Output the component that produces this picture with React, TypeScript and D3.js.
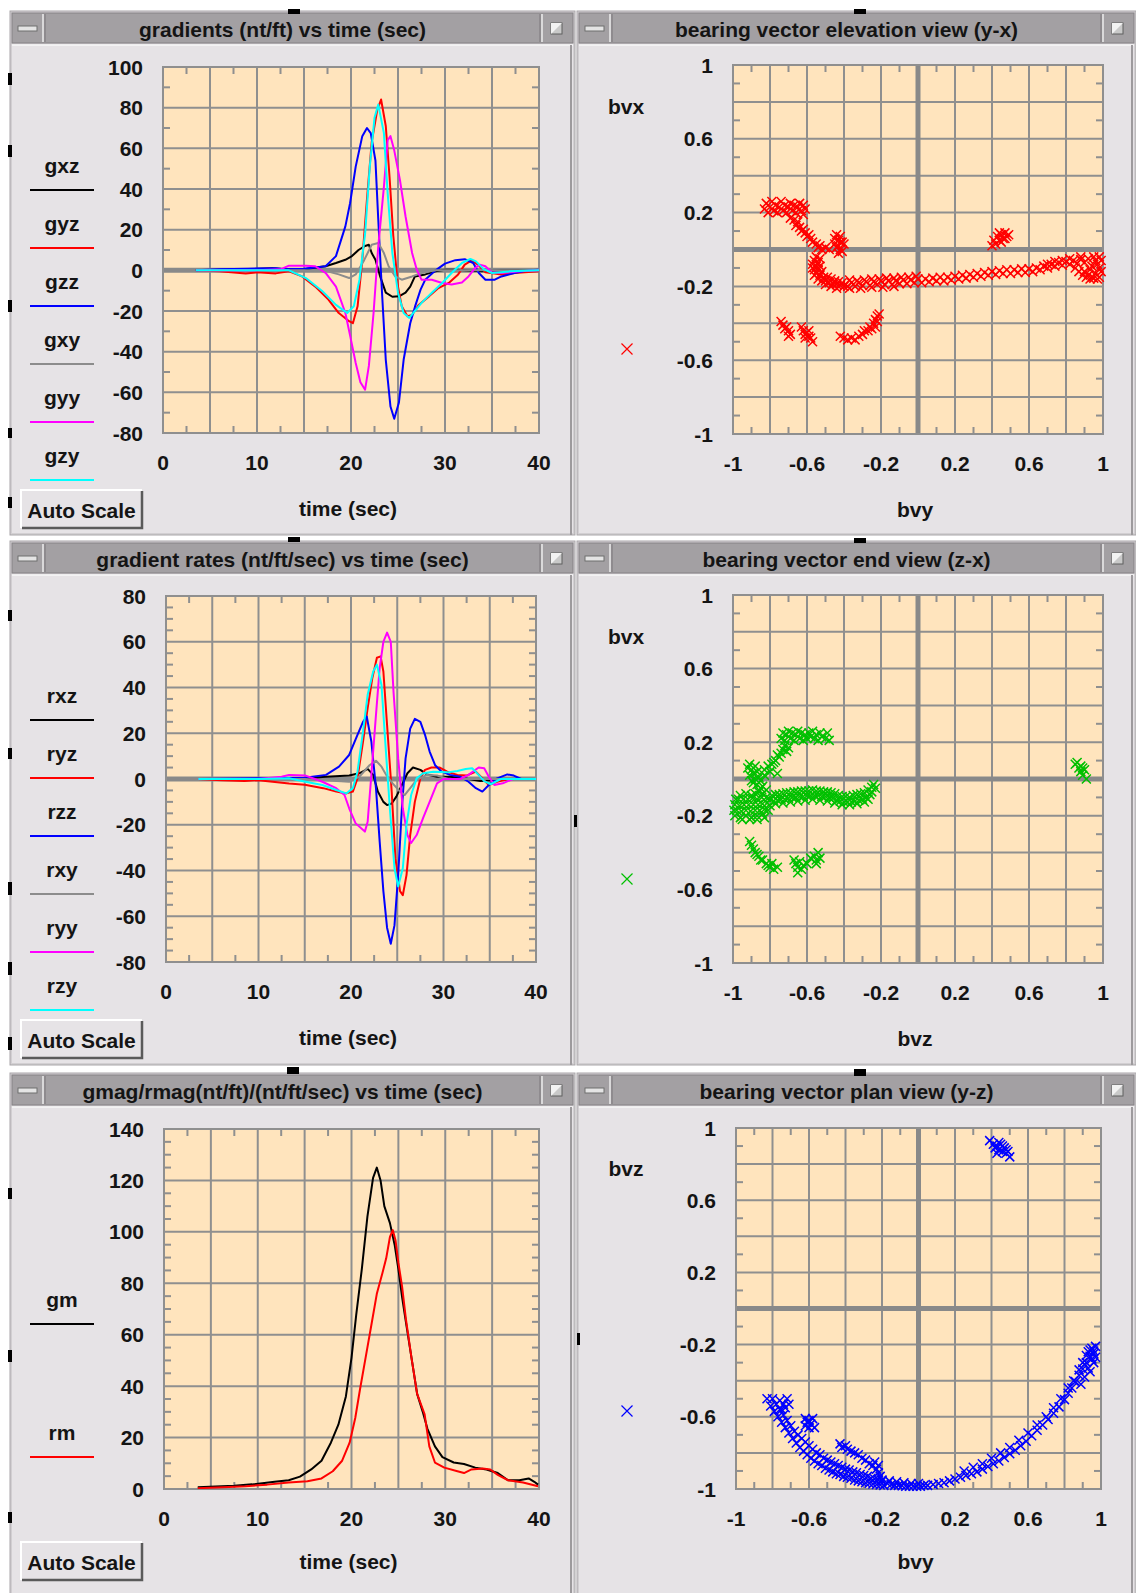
import React from "react";
import * as d3 from "d3";

type Pt = [number, number];

// ---------------- tick labels ----------------
const timeTicks = [0, 10, 20, 30, 40];
const gradTicks = [100, 80, 60, 40, 20, 0, -20, -40, -60, -80];
const rateTicks = [80, 60, 40, 20, 0, -20, -40, -60, -80];
const magTicks = [140, 120, 100, 80, 60, 40, 20, 0];
const bvTicks = [-1, -0.6, -0.2, 0.2, 0.6, 1];

// ---------------- series names / colours ----------------
const gradNames = ["gxz", "gyz", "gzz", "gxy", "gyy", "gzy"];
const rateNames = ["rxz", "ryz", "rzz", "rxy", "ryy", "rzy"];
const magNames = ["gm", "rm"];
const lineColors = ["#000000", "#ff0000", "#0000ff", "#8c8c8c", "#ff00ff", "#00ffff"];
const magColors = ["#000000", "#ff0000"];

// ---------------- gradients (nt/ft) vs time ----------------
const gxz: Pt[] = [[3.5,0],[6,0.3],[9,0.5],[11.6,1],[13,0.5],[15,0.5],[16.5,1.5],[17.3,2],[18.4,3.6],[19.4,5.2],[20.1,7],[20.8,10],[21.5,12],[21.9,12.6],[22.2,8.5],[22.6,5.2],[23.1,-3],[23.7,-11],[24.4,-13],[25.1,-12.8],[25.8,-11],[26.3,-8],[26.8,-3],[27.9,-2],[29,-0.5],[30,0.3],[31.1,0.3],[33.9,-0.5],[36,0],[40,0]];
const gyz: Pt[] = [[3.5,0],[6,-0.5],[8.8,-1.5],[10,-1],[12,-1.5],[13.4,-0.5],[14.8,-3],[16.2,-8],[17.6,-14.4],[18.7,-21],[19.8,-25],[20.2,-26],[20.7,-17.7],[21.2,5],[21.7,35],[22.2,63],[22.8,79],[23.2,84],[23.7,71],[24.1,46],[24.5,17],[25,-8],[25.4,-17.7],[26,-22.6],[26.5,-22],[27.2,-17],[28.3,-12.8],[29.3,-8.7],[30.4,-6.2],[31.4,-2],[32.1,2.8],[32.8,4.8],[33.5,2.8],[34.3,-1],[36,-2],[37.4,-1.3],[40,-0.5]];
const gzz: Pt[] = [[3.5,0],[6,0.5],[9,0.8],[12,1],[13,0.5],[15,0.8],[17.3,2],[18.4,7],[19.4,21.6],[19.9,33],[20.5,51],[21.2,66],[21.7,70],[22.1,67.5],[22.6,54],[22.9,25],[23.3,-11],[23.7,-44],[24.2,-67],[24.6,-73],[25.1,-65],[25.6,-44],[26.3,-26],[26.8,-18],[27.4,-9.5],[27.9,-4.6],[29,0],[30,3.3],[31.1,5],[32.1,5.5],[33,3.6],[33.6,-1.3],[34.3,-4.6],[35.3,-4.6],[36,-3],[37.4,-1.3],[38.9,0],[40,0.3]];
const gxy: Pt[] = [[3.5,0],[10,0],[15,0],[17.5,-0.5],[18.7,-2],[19.8,-3.8],[20.5,-2],[21.4,5],[22.2,12.6],[22.9,13.4],[23.5,8.5],[24,2],[24.7,-3],[25.4,-4.6],[26.5,-3],[27.5,-1.3],[29,0],[40,0]];
const gyy: Pt[] = [[3.5,0],[10,0],[12.5,0.5],[13.4,2.3],[15.2,2.3],[16.2,2],[17.3,-1.3],[18.4,-8],[19.4,-21],[19.9,-32],[20.5,-45.6],[21,-55],[21.5,-58.7],[21.9,-47],[22.4,-21],[22.9,11.8],[23.5,41],[23.9,64],[24.2,66],[24.6,59],[25.2,44.6],[25.8,26.6],[26.5,8.5],[27,0.3],[27.5,-4.6],[28.6,-4.6],[29.7,-6.2],[30.7,-7],[31.8,-6],[32.5,-3],[33.2,1.1],[33.7,2.8],[34.3,2],[35,-1],[36,-1.3],[38,-0.5],[40,0]];
const gzy: Pt[] = [[3.5,0],[10,0],[13.4,0],[15.2,-3.8],[16.9,-10],[18.4,-17],[19.6,-21],[20.3,-17.7],[20.9,-4.6],[21.5,18],[22,51],[22.5,75],[22.9,81.5],[23.5,67.5],[23.9,38],[24.4,8.5],[25,-11],[25.6,-21],[26.2,-23.4],[26.8,-20],[27.5,-16],[28.6,-11],[29.7,-6.2],[30.7,-1.3],[31.8,3.6],[32.7,5.6],[33.3,4.4],[34.1,0.6],[35,-1.3],[37,-0.5],[40,0]];

// ---------------- gradient rates (nt/ft/sec) vs time ----------------
const rxz: Pt[] = [[3.5,0],[10,0],[15,0.3],[17.3,1],[19.8,1.5],[20.9,2.5],[21.8,4.4],[22.4,1.8],[22.9,-5.5],[23.5,-10],[23.9,-11.4],[24.4,-10.7],[24.9,-7.7],[25.5,-2.6],[26.1,2.5],[26.7,5],[27.5,4],[28.2,2],[29.3,1],[30.7,1],[32.2,0.3],[34,-0.9],[35.5,-0.4],[37,0],[40,0]];
const ryz: Pt[] = [[3.5,0],[6,-0.5],[8.5,-0.9],[10,-0.5],[13.3,-2],[15,-2.5],[17,-4],[18.4,-5.5],[19.5,-6.3],[20.2,-5.5],[20.7,0.3],[21.3,16.4],[21.8,31],[22.3,44],[22.8,53],[23.2,53.6],[23.5,47],[23.9,23.6],[24.4,-5.5],[24.8,-34.7],[25.3,-49],[25.6,-50.8],[26,-42],[26.4,-24.5],[26.9,-10],[27.5,0.3],[28,4],[28.7,5],[29.6,5],[30.4,3.2],[31.5,1.8],[32.5,1.5],[33.5,3.2],[34.2,0.3],[34.9,-2.6],[35.8,-1.2],[37,0],[40,0]];
const rzz: Pt[] = [[3.5,0],[10,0.3],[15,0.5],[17.3,1.8],[18.7,5.4],[19.8,10.5],[20.7,19.3],[21.3,25],[21.7,27.3],[22.2,16.4],[22.7,-4],[23.1,-27.4],[23.5,-49],[23.9,-65],[24.3,-72],[24.7,-64],[25.1,-42],[25.5,-12.8],[25.9,9],[26.4,22],[26.9,26.3],[27.5,25],[28,19.3],[28.5,12],[29.1,6],[29.8,3.2],[30.7,1.8],[31.8,1],[32.7,-1.2],[33.5,-4],[34.2,-5.5],[34.9,-2.6],[35.8,0.3],[36.9,2],[37.6,1.5],[38.4,0],[40,0]];
const rxy: Pt[] = [[3.5,0],[15,0],[19.8,-1.2],[20.9,1],[22,6],[22.7,8],[23.3,5.4],[23.8,1.8],[24.5,-1.9],[25.3,-5.5],[25.8,-7],[26.4,-4],[27.1,-0.4],[28.2,1.8],[29.3,1.5],[30.5,0],[40,0]];
const ryy: Pt[] = [[3.5,0],[10,0],[12.5,1],[13.3,1.8],[15.1,1.5],[16.9,-1.2],[18.4,-4],[19.3,-7],[19.8,-12.8],[20.5,-19.4],[21.5,-23],[21.8,-18.7],[22.2,1.8],[22.7,28],[23.1,48.5],[23.5,60],[23.9,64],[24.3,60],[24.6,38],[25.1,9],[25.6,-12.8],[26.1,-24.5],[26.5,-28],[27.1,-24.5],[27.8,-17],[28.5,-10],[29.3,-1.9],[30,0],[31.8,0],[32.7,1.8],[33.8,5],[34.4,4.7],[34.9,1],[35.5,-2.6],[36.4,-1.9],[37.5,0],[40,0]];
const rzy: Pt[] = [[3.5,0],[10,0],[13.3,0.3],[15.1,-1.2],[16.9,-2.6],[18.4,-4.8],[19.5,-6.3],[20.2,-4],[20.7,3.2],[21.3,20.7],[21.8,36.8],[22.4,47],[22.8,50],[23.3,41],[23.7,16.4],[24.2,-12.8],[24.7,-39],[25.1,-47],[25.6,-39],[26,-20],[26.5,-7],[27.1,0.3],[27.8,2.5],[28.9,3.2],[30.4,2.9],[31.5,3.5],[32.4,4.4],[33.1,4.7],[33.8,1.8],[34.4,-0.9],[35.1,-2.3],[36.2,0],[40,0]];

// ---------------- gmag / rmag vs time ----------------
const gm: Pt[] = [[3.6,0.7],[5.5,1],[7.5,1.3],[9.4,1.8],[11.8,2.8],[13.3,3.4],[14.5,4.8],[15.7,7.6],[16.8,11],[17.8,18],[18.6,25],[19.4,36],[20,51],[20.5,67.6],[21.1,85.5],[21.7,106],[22.3,121],[22.7,125],[23.1,120],[23.5,110],[24.1,103.4],[24.6,95],[25,85.5],[25.4,74.5],[25.8,65],[26.4,51],[27,37],[27.6,30],[28.1,23.4],[28.9,16.6],[29.7,12.4],[30.9,10.3],[32,9.7],[33.2,8.3],[34.4,7.6],[35.6,6.2],[36.7,3.4],[37.9,3.4],[38.9,4.1],[39.5,2.8],[39.9,1.7]];
const rm: Pt[] = [[3.6,0.3],[6.3,0.7],[8.7,1.1],[11,1.7],[13.3,2.5],[15.3,3],[16.8,4.1],[18,6.9],[19,11],[19.8,18],[20.4,27.6],[20.9,38.6],[21.5,51],[22.1,63.4],[22.7,75.9],[23.3,84],[23.7,89.7],[24.1,98],[24.4,100.7],[24.7,96.6],[25,88],[25.4,78.6],[25.8,66.2],[26.4,51],[27,37],[27.8,29],[28.3,16.6],[28.9,10.3],[29.9,8.3],[31.3,6.9],[32,6.2],[32.8,7.6],[34,8],[34.8,7.6],[35.6,5.5],[36.7,3.4],[38.3,2.5],[39.9,1.1]];

// ---------------- bearing vector elevation view (bvy, bvx) ----------------
const elevPts: Pt[] = [
  [-0.83,0.22],[-0.82,0.25],[-0.81,0.20],[-0.80,0.23],[-0.79,0.26],[-0.78,0.21],[-0.77,0.24],[-0.76,0.20],[-0.75,0.23],[-0.74,0.26],[-0.73,0.21],[-0.72,0.24],[-0.71,0.20],[-0.70,0.23],[-0.69,0.25],[-0.68,0.21],[-0.67,0.24],[-0.66,0.20],[-0.65,0.23],[-0.64,0.25],[-0.63,0.21],[-0.62,0.24],[-0.62,0.19],[-0.61,0.22],
  [-0.69,0.17],[-0.67,0.16],[-0.66,0.13],[-0.64,0.12],[-0.63,0.10],[-0.61,0.09],[-0.60,0.07],[-0.58,0.06],[-0.57,0.04],[-0.55,0.03],[-0.53,0.02],[-0.52,0.00],[-0.50,0.01],[-0.48,0.00],[-0.65,0.15],[-0.62,0.11],[-0.59,0.08],[-0.54,0.01],
  [-0.45,0.06],[-0.44,0.08],[-0.43,0.05],[-0.42,0.07],[-0.41,0.04],[-0.43,0.02],[-0.42,0.00],[-0.41,-0.01],[-0.44,0.01],[-0.40,0.03],[-0.42,0.04],[-0.43,-0.02],[-0.45,0.03],
  [-0.55,-0.04],[-0.56,-0.06],[-0.54,-0.07],[-0.55,-0.09],[-0.56,-0.11],[-0.54,-0.11],[-0.55,-0.13],[-0.53,-0.14],[-0.52,-0.12],[-0.51,-0.15],[-0.50,-0.17],[-0.49,-0.15],[-0.48,-0.18],[-0.47,-0.16],[-0.46,-0.185],[-0.45,-0.17],[-0.44,-0.19],[-0.43,-0.175],[-0.42,-0.195],[-0.41,-0.18],[-0.40,-0.2],[-0.53,-0.05],[-0.53,-0.09],
  [-0.57,-0.08],[-0.57,-0.1],[-0.56,-0.14],[-0.54,-0.16],[-0.52,-0.17],[-0.5,-0.19],[-0.47,-0.2],[-0.44,-0.21],
  [-0.38,-0.20],[-0.36,-0.18],[-0.34,-0.20],[-0.32,-0.18],[-0.30,-0.195],[-0.28,-0.175],[-0.26,-0.195],[-0.24,-0.175],[-0.22,-0.19],[-0.20,-0.17],[-0.18,-0.19],[-0.16,-0.17],[-0.14,-0.19],[-0.12,-0.17],[-0.10,-0.185],[-0.08,-0.165],[-0.06,-0.185],[-0.04,-0.165],[-0.02,-0.18],[0.00,-0.16],[0.02,-0.18],[0.04,-0.16],[0.06,-0.175],[0.08,-0.155],[0.10,-0.17],[0.12,-0.15],[0.14,-0.17],[0.16,-0.15],[0.18,-0.165],[0.20,-0.145],[0.22,-0.16],[0.24,-0.14],[0.26,-0.155],[0.28,-0.135],[0.30,-0.15],[0.32,-0.13],[0.34,-0.145],[0.36,-0.125],[0.38,-0.14],[0.40,-0.12],[0.42,-0.135],[0.44,-0.115],[0.46,-0.13],[0.48,-0.11],[0.50,-0.13],[0.52,-0.11],[0.54,-0.125],[0.56,-0.105],[0.58,-0.125],[0.60,-0.105],[0.62,-0.12],[0.64,-0.10],[0.66,-0.11],[0.68,-0.09],[0.70,-0.10],[0.72,-0.08],[0.74,-0.09],[0.76,-0.07],[0.78,-0.085],[0.80,-0.065],[0.82,-0.08],[0.84,-0.06],[0.86,-0.075],[0.88,-0.055],[0.90,-0.07],[0.92,-0.05],[0.94,-0.09],[0.96,-0.06],[0.98,-0.1],
  [-0.37,-0.165],[-0.33,-0.17],[-0.29,-0.165],[-0.25,-0.16],[-0.21,-0.16],[-0.17,-0.155],[-0.13,-0.155],[-0.09,-0.15],[-0.05,-0.15],[-0.01,-0.145],[-0.37,-0.21],[-0.31,-0.21],[-0.25,-0.205],[-0.19,-0.205],[-0.13,-0.2],
  [0.90,-0.12],[0.92,-0.14],[0.94,-0.15],[0.96,-0.13],[0.98,-0.15],[0.95,-0.04],[0.98,-0.04],[0.93,-0.11],[0.97,-0.08],
  [0.85,-0.1],[0.87,-0.12],[0.89,-0.14],[0.91,-0.15],[0.93,-0.16],[0.95,-0.155],[0.97,-0.16],[0.99,-0.12],[0.99,-0.06],[0.88,-0.04],[0.82,-0.05],[0.78,-0.06],[0.74,-0.065],[0.70,-0.08],
  [0.40,0.02],[0.41,0.05],[0.42,0.03],[0.43,0.07],[0.44,0.05],[0.45,0.08],[0.46,0.06],[0.47,0.09],[0.48,0.07],[0.49,0.08],[0.45,0.04],[0.44,0.09],[0.47,0.06],
  [-0.74,-0.39],[-0.73,-0.41],[-0.72,-0.43],[-0.71,-0.42],[-0.70,-0.44],[-0.69,-0.46],[-0.70,-0.47],[-0.63,-0.42],[-0.62,-0.44],[-0.61,-0.46],[-0.60,-0.45],[-0.59,-0.47],[-0.58,-0.48],[-0.57,-0.50],[-0.61,-0.48],[-0.59,-0.44],
  [-0.42,-0.47],[-0.40,-0.48],[-0.38,-0.49],[-0.36,-0.48],[-0.34,-0.49],[-0.32,-0.47],[-0.30,-0.46],[-0.29,-0.44],[-0.27,-0.44],[-0.26,-0.42],[-0.25,-0.43],[-0.24,-0.40],[-0.23,-0.38],[-0.22,-0.36],[-0.23,-0.42],[-0.22,-0.39],[-0.21,-0.35]
];

// ---------------- bearing vector end view (bvz, bvx) ----------------
const endPts: Pt[] = [
  [-0.74,0.22],[-0.73,0.25],[-0.72,0.21],[-0.71,0.24],[-0.70,0.26],[-0.69,0.22],[-0.68,0.25],[-0.67,0.21],[-0.66,0.24],[-0.65,0.26],[-0.64,0.22],[-0.63,0.25],[-0.62,0.21],[-0.61,0.24],[-0.60,0.22],[-0.59,0.25],[-0.58,0.23],[-0.57,0.26],[-0.56,0.22],[-0.55,0.24],[-0.54,0.21],[-0.53,0.25],[-0.52,0.23],[-0.50,0.22],[-0.49,0.25],[-0.48,0.21],
  [-0.72,0.18],[-0.73,0.16],[-0.74,0.14],[-0.75,0.12],[-0.76,0.13],[-0.77,0.10],[-0.78,0.09],[-0.79,0.08],[-0.81,0.07],[-0.83,0.05],[-0.80,0.04],[-0.76,0.03],[-0.71,0.15],[-0.70,0.17],
  [-0.92,0.06],[-0.91,0.08],[-0.90,0.05],[-0.89,0.03],[-0.91,0.02],[-0.88,0.00],[-0.87,0.04],[-0.86,0.01],[-0.90,-0.01],[-0.89,-0.02],[-0.87,-0.03],[-0.85,-0.01],[-0.84,-0.04],[-0.83,0.02],[-0.88,0.07],[-0.86,-0.06],
  [-0.99,-0.2],[-0.96,-0.21],[-0.93,-0.2],[-0.90,-0.21],[-0.87,-0.2],[-0.84,-0.19],
  [-0.98,-0.17],[-0.955,-0.175],[-0.93,-0.17],[-0.905,-0.175],[-0.88,-0.17],[-0.855,-0.17],[-0.83,-0.165],
  [-0.99,-0.14],[-0.965,-0.145],[-0.94,-0.14],[-0.915,-0.14],[-0.89,-0.14],[-0.865,-0.14],[-0.84,-0.135],[-0.815,-0.13],
  [-0.97,-0.11],[-0.945,-0.11],[-0.92,-0.11],[-0.895,-0.105],[-0.87,-0.11],[-0.845,-0.1],[-0.82,-0.1],[-0.80,-0.11],
  [-0.86,-0.07],[-0.84,-0.08],[-0.82,-0.06],[-0.85,-0.05],
  [-0.995,-0.17],[-0.985,-0.11],[-0.96,-0.09],[-0.93,-0.08],[-0.9,-0.09],[-0.88,-0.08],[-0.95,-0.22],[-0.91,-0.22],[-0.87,-0.22],[-0.83,-0.21],[-0.81,-0.17],[-0.8,-0.145],
  [-0.79,-0.09],[-0.77,-0.085],[-0.75,-0.085],[-0.73,-0.08],[-0.71,-0.075],[-0.69,-0.075],[-0.67,-0.07],[-0.65,-0.07],[-0.63,-0.065],[-0.61,-0.065],[-0.59,-0.065],[-0.57,-0.06],[-0.55,-0.065],[-0.53,-0.065],[-0.51,-0.07],[-0.49,-0.07],[-0.47,-0.075],[-0.45,-0.08],[-0.43,-0.09],[-0.41,-0.095],[-0.39,-0.095],[-0.37,-0.1],[-0.35,-0.09],[-0.33,-0.085],[-0.31,-0.08],[-0.29,-0.075],[-0.27,-0.06],[-0.25,-0.045],[-0.24,-0.03],
  [-0.78,-0.12],[-0.76,-0.115],[-0.74,-0.11],[-0.72,-0.11],[-0.70,-0.105],[-0.68,-0.1],[-0.66,-0.1],[-0.64,-0.095],[-0.62,-0.095],[-0.60,-0.09],[-0.58,-0.09],[-0.56,-0.09],[-0.54,-0.09],[-0.52,-0.095],[-0.50,-0.095],[-0.48,-0.1],[-0.46,-0.105],[-0.44,-0.115],[-0.42,-0.12],[-0.40,-0.125],[-0.38,-0.125],[-0.36,-0.125],[-0.34,-0.12],[-0.32,-0.115],[-0.30,-0.11],[-0.28,-0.1],[-0.26,-0.085],
  [-0.77,-0.135],[-0.73,-0.13],[-0.69,-0.125],[-0.65,-0.12],[-0.61,-0.115],[-0.57,-0.11],[-0.53,-0.115],[-0.49,-0.12],[-0.45,-0.13],[-0.41,-0.14],[-0.37,-0.14],[-0.33,-0.135],[-0.29,-0.125],[-0.27,-0.11],[-0.25,-0.07],[-0.23,-0.05],
  [-0.91,-0.34],[-0.90,-0.36],[-0.89,-0.38],[-0.88,-0.40],[-0.87,-0.41],[-0.86,-0.42],[-0.85,-0.44],[-0.84,-0.44],[-0.82,-0.46],[-0.81,-0.47],[-0.80,-0.48],[-0.78,-0.49],[-0.76,-0.48],[-0.79,-0.46],
  [-0.67,-0.44],[-0.66,-0.46],[-0.65,-0.48],[-0.64,-0.45],[-0.63,-0.49],[-0.65,-0.51],[-0.62,-0.47],[-0.60,-0.46],[-0.58,-0.43],[-0.56,-0.42],[-0.55,-0.44],[-0.54,-0.40],[-0.53,-0.43],[-0.55,-0.46],
  [0.85,0.08],[0.86,0.09],[0.87,0.06],[0.88,0.04],[0.89,0.02],[0.90,0.05],[0.88,0.07],[0.91,0.00],[0.89,0.06]
];

// ---------------- bearing vector plan view (bvy, bvz) ----------------
const planPts: Pt[] = [
  [0.39,0.93],[0.41,0.91],[0.42,0.89],[0.43,0.90],[0.44,0.88],[0.45,0.91],[0.46,0.87],[0.47,0.89],[0.48,0.86],[0.49,0.87],[0.50,0.84],[0.44,0.92],[0.46,0.9],[0.48,0.88],[0.43,0.86],
  [-0.83,-0.5],[-0.81,-0.54],[-0.79,-0.57],[-0.77,-0.6],[-0.75,-0.63],[-0.73,-0.66],[-0.71,-0.69],[-0.69,-0.72],[-0.67,-0.745],[-0.65,-0.77],[-0.63,-0.79],[-0.61,-0.81],[-0.59,-0.83],[-0.57,-0.845],[-0.55,-0.86],[-0.53,-0.87],[-0.51,-0.885],[-0.49,-0.895],[-0.47,-0.905],[-0.45,-0.915],[-0.43,-0.92],[-0.41,-0.93],[-0.39,-0.935],[-0.37,-0.94],[-0.35,-0.95],[-0.33,-0.955],[-0.31,-0.96],[-0.29,-0.965],[-0.27,-0.968],[-0.25,-0.972],[-0.23,-0.975],[-0.21,-0.978],[-0.19,-0.98],
  [-0.80,-0.5],[-0.78,-0.53],[-0.76,-0.56],[-0.74,-0.59],[-0.72,-0.62],[-0.70,-0.65],[-0.68,-0.68],[-0.66,-0.70],[-0.64,-0.72],[-0.62,-0.74],[-0.60,-0.76],[-0.58,-0.78],[-0.56,-0.80],[-0.54,-0.81],[-0.52,-0.83],[-0.50,-0.84],[-0.48,-0.85],[-0.46,-0.86],[-0.44,-0.87],[-0.42,-0.88],[-0.40,-0.89],[-0.38,-0.895],[-0.36,-0.905],[-0.34,-0.91],[-0.32,-0.92],[-0.30,-0.925],[-0.28,-0.93],[-0.26,-0.94],[-0.24,-0.945],[-0.22,-0.95],[-0.20,-0.955],
  [-0.17,-0.97],[-0.15,-0.975],[-0.13,-0.98],[-0.11,-0.98],[-0.09,-0.982],[-0.07,-0.985],[-0.05,-0.985],[-0.03,-0.985],[-0.01,-0.985],[0.01,-0.985],[0.03,-0.98],[-0.16,-0.955],[-0.12,-0.96],[-0.08,-0.965],[-0.04,-0.97],[0.0,-0.97],
  [0.05,-0.98],[0.08,-0.975],[0.11,-0.97],[0.14,-0.965],[0.17,-0.955],[0.20,-0.945],[0.23,-0.935],[0.26,-0.925],[0.29,-0.915],[0.32,-0.905],[0.35,-0.89],[0.38,-0.875],[0.41,-0.86],[0.44,-0.845],[0.47,-0.825],[0.50,-0.805],[0.53,-0.785],[0.56,-0.76],[0.59,-0.735],[0.62,-0.705],[0.65,-0.675],[0.68,-0.645],[0.71,-0.615],[0.74,-0.58],[0.77,-0.545],[0.80,-0.505],[0.82,-0.47],[0.84,-0.44],[0.86,-0.405],[0.88,-0.37],[0.90,-0.335],[0.92,-0.30],[0.94,-0.265],[0.96,-0.235],[0.97,-0.21],
  [0.25,-0.90],[0.30,-0.88],[0.35,-0.86],[0.40,-0.83],[0.45,-0.80],[0.50,-0.77],[0.55,-0.73],[0.60,-0.69],[0.65,-0.645],[0.70,-0.60],[0.74,-0.55],[0.78,-0.50],[0.82,-0.44],[0.85,-0.40],[0.88,-0.34],[0.90,-0.30],[0.92,-0.26],[0.94,-0.23],[0.95,-0.28],[0.93,-0.33],[0.91,-0.38],[0.89,-0.42],
  [0.96,-0.25],[0.97,-0.27],[0.95,-0.22],[0.93,-0.24],[0.96,-0.3],[0.94,-0.35],
  [-0.76,-0.51],[-0.74,-0.53],[-0.72,-0.50],[-0.73,-0.55],[-0.75,-0.56],[-0.71,-0.53],
  [-0.62,-0.61],[-0.61,-0.63],[-0.60,-0.62],[-0.59,-0.64],[-0.62,-0.65],[-0.58,-0.61],[-0.60,-0.66],[-0.57,-0.66],
  [-0.43,-0.75],[-0.42,-0.77],[-0.40,-0.76],[-0.39,-0.78],[-0.37,-0.79],[-0.35,-0.80],[-0.33,-0.81],[-0.31,-0.83],[-0.29,-0.84],[-0.27,-0.86],[-0.25,-0.87],[-0.23,-0.89],[-0.22,-0.91],[-0.21,-0.93],[-0.20,-0.95],[-0.22,-0.87],[-0.24,-0.85]
];

const gradSeries = [gxz, gyz, gzz, gxy, gyy, gzy];
const rateSeries = [rxz, ryz, rzz, rxy, ryy, rzy];
const magSeries = [gm, rm];

// ---------------- layout ----------------
const FONT = '"Liberation Sans", Arial, Helvetica, sans-serif';
const COL = [{ x: 10, w: 565 }, { x: 577, w: 559 }];
const ROW_T = [13, 543, 1075];
const PANEL_H = 522;
const BODY = "#e6e3e6";
const TITLEBAR = "#a3a0a3";
const PLOTBG = "#ffe4bd";
const GRID = "#8f8f8f";
const TXT = "#141414";

type Rect = { l: number; r: number; t: number; b: number };

const HANDLES: [number, number, number, number][] = [
  [288, 9, 12, 5], [854, 9, 12, 5], [288, 537, 12, 5], [854, 538, 12, 5], [287, 1067, 12, 7], [854, 1069, 12, 7],
  [8, 73, 4, 12], [8, 145, 4, 12], [8, 300, 4, 12], [8, 428, 4, 10], [8, 497, 4, 11], [8, 610, 4, 11], [8, 748, 4, 11],
  [8, 882, 4, 13], [8, 962, 4, 13], [8, 1037, 4, 13], [8, 1188, 4, 11], [8, 1350, 4, 12], [8, 1512, 4, 11],
  [574, 815, 3, 12], [577, 1333, 3, 12],
];

function isMult(v: number, base: number, step: number) {
  const k = (v - base) / step;
  return Math.abs(k - Math.round(k)) < 1e-6;
}

function Panel({ x, T, w, title }: { x: number; T: number; w: number; title: string }) {
  return (
    <g>
      <rect x={x} y={T - 2} width={w} height={PANEL_H + 2} fill="#d2cfd2" stroke="#a9a6a9" strokeWidth={1} />
      <rect x={x + 2} y={T} width={w - 4} height={30} fill={TITLEBAR} stroke="#858285" strokeWidth={1} />
      <line x1={x + 33} y1={T + 1} x2={x + 33} y2={T + 29} stroke="#ececec" strokeWidth={1.5} />
      <line x1={x + 35} y1={T + 1} x2={x + 35} y2={T + 29} stroke="#7a777a" strokeWidth={1} />
      <rect x={x + 8} y={T + 13} width={19} height={5} fill="#e4e4e4" stroke="#6f6f6f" strokeWidth={1} />
      <line x1={x + w - 35} y1={T + 1} x2={x + w - 35} y2={T + 29} stroke="#7a777a" strokeWidth={1} />
      <line x1={x + w - 33} y1={T + 1} x2={x + w - 33} y2={T + 29} stroke="#ececec" strokeWidth={1.5} />
      <rect x={x + w - 24} y={T + 10} width={11} height={11} fill="#c9c9c9" stroke="#5f5f5f" strokeWidth={1} />
      <path d={`M${x + w - 24},${T + 21}L${x + w - 24},${T + 10}L${x + w - 13},${T + 10}Z`} fill="#f2f2f2" />
      <text x={x + w / 2 - 10} y={T + 16} textAnchor="middle" dominantBaseline="central" fontFamily={FONT} fontWeight="bold" fontSize={21} fill={TXT}>
        {title}
      </text>
      <rect x={x + 2} y={T + 32} width={w - 4} height={PANEL_H - 34} fill={BODY} />
      <line x1={x + 2} y1={T + 32} x2={x + w - 2} y2={T + 32} stroke="#f7f7f7" strokeWidth={1.5} />
      <line x1={x + w - 4} y1={T + 32} x2={x + w - 4} y2={T + PANEL_H} stroke="#9d9a9d" strokeWidth={2} />
    </g>
  );
}

function AutoScale({ x, T, dy }: { x: number; T: number; dy: number }) {
  const bx = x + 11, by = T + 477 + dy, bw = 121, bh = 38;
  return (
    <g>
      <rect x={bx} y={by} width={bw} height={bh} fill={BODY} />
      <path d={`M${bx},${by + bh}L${bx},${by}L${bx + bw},${by}`} fill="none" stroke="#ffffff" strokeWidth={2} />
      <path d={`M${bx + 1},${by + bh}L${bx + bw},${by + bh}L${bx + bw},${by + 1}`} fill="none" stroke="#5a5a5a" strokeWidth={2.5} />
      <text x={bx + bw / 2} y={by + bh / 2 + 1} textAnchor="middle" dominantBaseline="central" fontFamily={FONT} fontWeight="bold" fontSize={21} fill={TXT}>
        Auto Scale
      </text>
    </g>
  );
}

type FrameProps = {
  rect: Rect;
  xs: d3.ScaleLinear<number, number>;
  ys: d3.ScaleLinear<number, number>;
  xGrid: number; xMinor: number; yGrid: number; yMinor: number;
  xTicks: number[]; yTicks: number[];
  zeroX: boolean; zeroY: boolean;
  xTitle: string; titleDy: number;
};

function Frame(p: FrameProps) {
  const { rect, xs, ys } = p;
  const [x0, x1] = xs.domain();
  const [y0, y1] = ys.domain();
  const xg = d3.range(x0 + p.xGrid, x1 - 1e-6, p.xGrid);
  const yg = d3.range(y0 + p.yGrid, y1 - 1e-6, p.yGrid);
  const xm = d3.range(x0, x1 + 1e-6, p.xMinor).filter((v) => !isMult(v, x0, p.xGrid));
  const ym = d3.range(y0, y1 + 1e-6, p.yMinor).filter((v) => !isMult(v, y0, p.yGrid));
  const TL = 7;
  return (
    <g>
      <rect x={rect.l} y={rect.t} width={rect.r - rect.l} height={rect.b - rect.t} fill={PLOTBG} />
      {xg.map((v, i) => (
        <line key={"xg" + i} x1={xs(v)} x2={xs(v)} y1={rect.t} y2={rect.b} stroke={GRID} strokeWidth={2} />
      ))}
      {yg.map((v, i) => (
        <line key={"yg" + i} x1={rect.l} x2={rect.r} y1={ys(v)} y2={ys(v)} stroke={GRID} strokeWidth={2} />
      ))}
      {xm.map((v, i) => (
        <g key={"xm" + i}>
          <line x1={xs(v)} x2={xs(v)} y1={rect.t} y2={rect.t + TL} stroke={GRID} strokeWidth={2} />
          <line x1={xs(v)} x2={xs(v)} y1={rect.b} y2={rect.b - TL} stroke={GRID} strokeWidth={2} />
        </g>
      ))}
      {ym.map((v, i) => (
        <g key={"ym" + i}>
          <line x1={rect.l} x2={rect.l + TL} y1={ys(v)} y2={ys(v)} stroke={GRID} strokeWidth={2} />
          <line x1={rect.r} x2={rect.r - TL} y1={ys(v)} y2={ys(v)} stroke={GRID} strokeWidth={2} />
        </g>
      ))}
      {p.zeroY && <line x1={rect.l} x2={rect.r} y1={ys(0)} y2={ys(0)} stroke="#898989" strokeWidth={5} />}
      {p.zeroX && <line x1={xs(0)} x2={xs(0)} y1={rect.t} y2={rect.b} stroke="#898989" strokeWidth={5} />}
      <rect x={rect.l} y={rect.t} width={rect.r - rect.l} height={rect.b - rect.t} fill="none" stroke={GRID} strokeWidth={2} />
      {p.yTicks.map((v, i) => (
        <text key={"yl" + i} x={rect.l - 20} y={ys(v)} textAnchor="end" dominantBaseline="central" fontFamily={FONT} fontWeight="bold" fontSize={21} fill={TXT}>
          {String(v)}
        </text>
      ))}
      {p.xTicks.map((v, i) => (
        <text key={"xl" + i} x={xs(v)} y={rect.b + 29} textAnchor="middle" dominantBaseline="central" fontFamily={FONT} fontWeight="bold" fontSize={21} fill={TXT}>
          {String(v)}
        </text>
      ))}
      <text x={(rect.l + rect.r) / 2 - 3} y={rect.b + 75 + p.titleDy} textAnchor="middle" dominantBaseline="central" fontFamily={FONT} fontWeight="bold" fontSize={21} fill={TXT}>
        {p.xTitle}
      </text>
    </g>
  );
}

function TimePanel(props: {
  col: number; row: number; title: string; rect: Rect; yDom: [number, number]; yTicks: number[]; yMinor: number;
  series: Pt[][]; names: string[]; colors: string[]; legendY: number[]; autoDy: number; titleDy: number;
}) {
  const { x, w } = COL[props.col];
  const T = ROW_T[props.row];
  const { rect } = props;
  const xs = d3.scaleLinear().domain([0, 40]).range([rect.l, rect.r]);
  const ys = d3.scaleLinear().domain(props.yDom).range([rect.b, rect.t]);
  const line = d3.line<Pt>().x((d) => xs(d[0])).y((d) => ys(d[1]));
  return (
    <g>
      <Panel x={x} T={T} w={w} title={props.title} />
      <Frame rect={rect} xs={xs} ys={ys} xGrid={5} xMinor={2.5} yGrid={20} yMinor={props.yMinor}
        xTicks={timeTicks} yTicks={props.yTicks} zeroX={false} zeroY={props.yDom[0] < 0} xTitle="time (sec)" titleDy={props.titleDy} />
      <clipPath id={"clip" + props.col + props.row}>
        <rect x={rect.l} y={rect.t} width={rect.r - rect.l} height={rect.b - rect.t} />
      </clipPath>
      <g clipPath={`url(#clip${props.col}${props.row})`}>
        {props.series.map((s, i) => (
          <path key={i} d={line(s) || ""} fill="none" stroke={props.colors[i]} strokeWidth={2} strokeLinejoin="round" />
        ))}
      </g>
      {props.names.map((n, i) => (
        <g key={n}>
          <text x={x + 52} y={T + props.legendY[i]} textAnchor="middle" dominantBaseline="central" fontFamily={FONT} fontWeight="bold" fontSize={21} fill={TXT}>
            {n}
          </text>
          <line x1={x + 20} x2={x + 84} y1={T + props.legendY[i] + 25} y2={T + props.legendY[i] + 25} stroke={props.colors[i]} strokeWidth={2} />
        </g>
      ))}
      <AutoScale x={x} T={T} dy={props.autoDy} />
    </g>
  );
}

function Cross({ cx, cy, s, color, sw }: { cx: number; cy: number; s: number; color: string; sw: number }) {
  return <path d={`M${cx - s},${cy - s}L${cx + s},${cy + s}M${cx - s},${cy + s}L${cx + s},${cy - s}`} stroke={color} strokeWidth={sw} fill="none" />;
}

function ScatterPanel(props: {
  col: number; row: number; title: string; rect: Rect; pts: Pt[]; color: string; xName: string; yName: string; titleDy: number;
}) {
  const { x, w } = COL[props.col];
  const T = ROW_T[props.row];
  const { rect } = props;
  const xs = d3.scaleLinear().domain([-1, 1]).range([rect.l, rect.r]);
  const ys = d3.scaleLinear().domain([-1, 1]).range([rect.b, rect.t]);
  return (
    <g>
      <Panel x={x} T={T} w={w} title={props.title} />
      <Frame rect={rect} xs={xs} ys={ys} xGrid={0.2} xMinor={0.1} yGrid={0.2} yMinor={0.1}
        xTicks={bvTicks} yTicks={[...bvTicks].reverse()} zeroX={true} zeroY={true} xTitle={props.xName} titleDy={props.titleDy} />
      {props.pts.map((d, i) => (
        <Cross key={i} cx={xs(d[0])} cy={ys(d[1])} s={4.5} color={props.color} sw={1.5} />
      ))}
      <text x={x + 49} y={T + 93} textAnchor="middle" dominantBaseline="central" fontFamily={FONT} fontWeight="bold" fontSize={21} fill={TXT}>
        {props.yName}
      </text>
      <Cross cx={x + 50} cy={T + 336} s={5.5} color={props.color} sw={1.2} />
    </g>
  );
}

export default function App() {
  const legend6 = [152, 210, 268, 326, 384, 442];
  return (
    <svg width={1136} height={1593} style={{ position: "absolute", left: 0, top: 0, display: "block", background: "#ffffff" }}>
      <rect x={0} y={0} width={1136} height={1593} fill="#ffffff" />
      <TimePanel col={0} row={0} title="gradients (nt/ft) vs time (sec)" rect={{ l: 163, r: 539, t: 67, b: 433 }}
        yDom={[-80, 100]} yTicks={gradTicks} yMinor={10} series={gradSeries} names={gradNames} colors={lineColors} legendY={legend6} autoDy={0} titleDy={0} />
      <ScatterPanel col={1} row={0} title="bearing vector elevation view (y-x)" rect={{ l: 733, r: 1103, t: 65, b: 434 }}
        pts={elevPts} color="#ff0000" xName="bvy" yName="bvx" titleDy={0} />
      <TimePanel col={0} row={1} title="gradient rates (nt/ft/sec) vs time (sec)" rect={{ l: 166, r: 536, t: 596, b: 962 }}
        yDom={[-80, 80]} yTicks={rateTicks} yMinor={5} series={rateSeries} names={rateNames} colors={lineColors} legendY={legend6} autoDy={0} titleDy={0} />
      <ScatterPanel col={1} row={1} title="bearing vector end view (z-x)" rect={{ l: 733, r: 1103, t: 595, b: 963 }}
        pts={endPts} color="#00c000" xName="bvz" yName="bvx" titleDy={0} />
      <TimePanel col={0} row={2} title="gmag/rmag(nt/ft)/(nt/ft/sec) vs time (sec)" rect={{ l: 164, r: 539, t: 1129, b: 1489 }}
        yDom={[0, 140]} yTicks={magTicks} yMinor={5} series={magSeries} names={magNames} colors={magColors} legendY={[224, 357]} autoDy={-10} titleDy={-3} />
      <ScatterPanel col={1} row={2} title="bearing vector plan view (y-z)" rect={{ l: 736, r: 1101, t: 1128, b: 1489 }}
        pts={planPts} color="#0000ff" xName="bvy" yName="bvz" titleDy={-3} />
      {HANDLES.map((h, i) => (
        <rect key={i} x={h[0]} y={h[1]} width={h[2]} height={h[3]} fill="#000000" />
      ))}
    </svg>
  );
}
